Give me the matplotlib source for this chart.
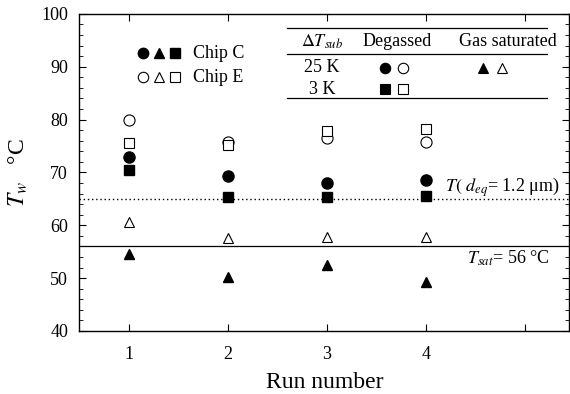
import matplotlib.pyplot as plt
from matplotlib.ticker import MultipleLocator

plt.rcParams['font.family'] = ['Liberation Serif', 'DejaVu Serif']
plt.rcParams['mathtext.fontset'] = 'stix'

runs = [1, 2, 3, 4]
# Chip C (filled markers)
c_deg_25 = [73.0, 69.4, 68.0, 68.6]
c_deg_3 = [70.5, 65.3, 65.3, 65.6]
c_sat_25 = [54.6, 50.2, 52.5, 49.3]
# Chip E (open markers)
e_deg_25 = [80.0, 75.8, 76.5, 75.8]
e_deg_3 = [75.5, 75.1, 77.9, 78.2]
e_sat_25 = [60.7, 57.5, 57.7, 57.8]

t_deq = 65.0
t_sat = 56.0

fig = plt.figure(figsize=(5.7, 3.94), dpi=100)
ax = fig.add_axes([0.139, 0.16, 0.86, 0.805])

ax.axhline(t_deq, color='k', ls=(0, (1, 2)), lw=1.0)
ax.axhline(t_sat, color='k', lw=0.9)

ms = 8
ax.plot(runs, e_deg_25, 'o', mfc='white', mec='k', mew=0.8, ms=ms)
ax.plot(runs, e_deg_3, 's', mfc='white', mec='k', mew=0.8, ms=ms - 0.5)
ax.plot(runs, e_sat_25, '^', mfc='white', mec='k', mew=0.8, ms=ms - 0.5)
ax.plot(runs, c_deg_25, 'o', color='k', ms=ms)
ax.plot(runs, c_deg_3, 's', color='k', ms=ms - 0.5)
ax.plot(runs, c_sat_25, '^', color='k', ms=ms - 0.5)

ax.set_xlim(0.5, 5.45)
ax.set_ylim(40, 100)
ax.set_xticks([1, 2, 3, 4, 5])
ax.set_xticklabels(['1', '2', '3', '4', ''])
ax.yaxis.set_major_locator(MultipleLocator(10))
ax.yaxis.set_minor_locator(MultipleLocator(2))
ax.tick_params(direction='in', top=True, right=True, labelsize=13, pad=8)
ax.tick_params(which='major', length=5, width=0.8)
ax.tick_params(which='minor', direction='in', right=True, length=3, width=0.6)
ax.tick_params(axis='x', pad=11)
for s in ax.spines.values():
    s.set_linewidth(1.0)

ax.set_xlabel('Run number', fontsize=17, labelpad=6)
ax.set_ylabel(r'$T_w$   °C', fontsize=17, labelpad=8)

ax.text(445 / 570, (394 - 187) / 394, r'$T($ $d_{eq}$= 1.2 μm)', transform=fig.transFigure,
        fontsize=13, va='center')
ax.text(467 / 570, (394 - 258) / 394, r'$T_{sat}$= 56 °C', transform=fig.transFigure,
        fontsize=13, va='center')

# legend (chip symbols)
lx = [0.13, 0.163, 0.196]
for i, m in enumerate(['o', '^', 's']):
    ax.plot(lx[i], 0.876, m, color='k', ms=7.5, transform=ax.transAxes, clip_on=False)
    ax.plot(lx[i], 0.80, m, mfc='white', mec='k', mew=0.8, ms=7.5,
            transform=ax.transAxes, clip_on=False)
ax.text(0.232, 0.876, 'Chip C', transform=ax.transAxes, fontsize=13, va='center')
ax.text(0.232, 0.80, 'Chip E', transform=ax.transAxes, fontsize=13, va='center')

# table inset
fy = lambda y: (394 - y) / 394
fx = lambda x: x / 570
for y in [28, 54, 98]:
    fig.add_artist(plt.Line2D([fx(287), fx(547)], [fy(y), fy(y)], color='k', lw=0.9))
fig.text(fx(322), fy(42), r'$\Delta T_{sub}$', ha='center', va='center', fontsize=13)
fig.text(fx(397), fy(42), 'Degassed', ha='center', va='center', fontsize=13)
fig.text(fx(508), fy(42), 'Gas saturated', ha='center', va='center', fontsize=13)
fig.text(fx(322), fy(68), '25 K', ha='center', va='center', fontsize=13)
fig.text(fx(322), fy(89), '3 K', ha='center', va='center', fontsize=13)
tab_marks = [(385, 68, 'o', True), (403, 68, 'o', False),
             (385, 89, 's', True), (403, 89, 's', False),
             (483, 68, '^', True), (502, 68, '^', False)]
for x, y, m, filled in tab_marks:
    fig.add_artist(plt.Line2D([fx(x)], [fy(y)], marker=m, ls='none', ms=7.5,
                              mfc='k' if filled else 'white', mec='k', mew=0.8))

fig.savefig('out.png', dpi=100)
